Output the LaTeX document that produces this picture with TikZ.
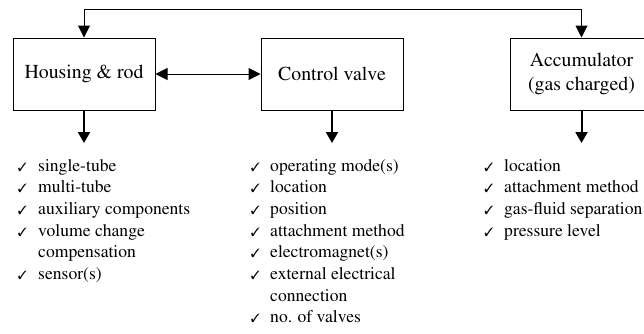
\documentclass[tikz,border=0pt]{standalone}
\usepackage[T1]{fontenc}
\renewcommand{\rmdefault}{ptm}
\usepackage{pifont}
\usetikzlibrary{arrows.meta}
\begin{document}
\begin{tikzpicture}[x=1pt,y=-1pt,
  box/.style={draw, line width=1pt, minimum width=142pt, minimum height=72pt,
    inner sep=0pt, align=center, font=\fontsize{19.8}{24.5}\selectfont},
  itm/.style={anchor=base west, inner sep=0pt, font=\fontsize{17.6}{21.7}\selectfont},
  chk/.style={anchor=base, inner sep=0pt, font=\fontsize{12}{12}\selectfont},
  dbl/.style={line width=1pt, {Triangle[width=12pt,length=12pt]}-{Triangle[width=12pt,length=12pt]}},
  down/.style={line width=2pt, -{Triangle[width=12pt,length=11pt]}}]
\useasboundingbox (0,0) rectangle (644,333);

\node[box] (hr) at (84,74) {Housing \& rod};
\node[box] (cv) at (332,74) {Control valve};
\node[box] (acc) at (581.5,74) {Accumulator\\(gas charged)};

\draw[dbl] (hr.north) -- ++(0,-28) -| (acc.north);
\draw[dbl] (hr.east) -- (cv.west);

\coordinate (hrT) at (84,143);
\coordinate (cvT) at (332,143);
\coordinate (accT) at (581.5,143);
\draw[down] (hr.south) -- (hrT);
\draw[down] (cv.south) -- (cvT);
\draw[down] (acc.south) -- (accT);

% Housing & rod list
\foreach \k/\t/\c in {0/single-tube/1, 1/multi-tube/1, 2/auxiliary components/1,
  3/volume change/1, 4/compensation/0, 5/sensor(s)/1}{
  \node[itm] (h\k) at (38,171+21.7*\k) {\t};
  \ifnum\c=1 \node[chk] (hc\k) at (22.5,171+21.7*\k) {\ding{51}};\fi
}
% Control valve list
\foreach \k/\t/\c in {0/operating mode(s)/1, 1/location/1, 2/position/1,
  3/attachment method/1, 4/electromagnet(s)/1, 5/external electrical/1,
  6/connection/0, 7/no. of valves/1}{
  \node[itm] (v\k) at (270,171+21.7*\k) {\t};
  \ifnum\c=1 \node[chk] (vc\k) at (255.5,171+21.7*\k) {\ding{51}};\fi
}
% Accumulator list
\foreach \k/\t in {0/location, 1/attachment method, 2/gas-fluid separation, 3/pressure level}{
  \node[itm] (a\k) at (504,171+21.7*\k) {\t};
  \node[chk] (ac\k) at (489,171+21.7*\k) {\ding{51}};
}
\end{tikzpicture}
\end{document}
